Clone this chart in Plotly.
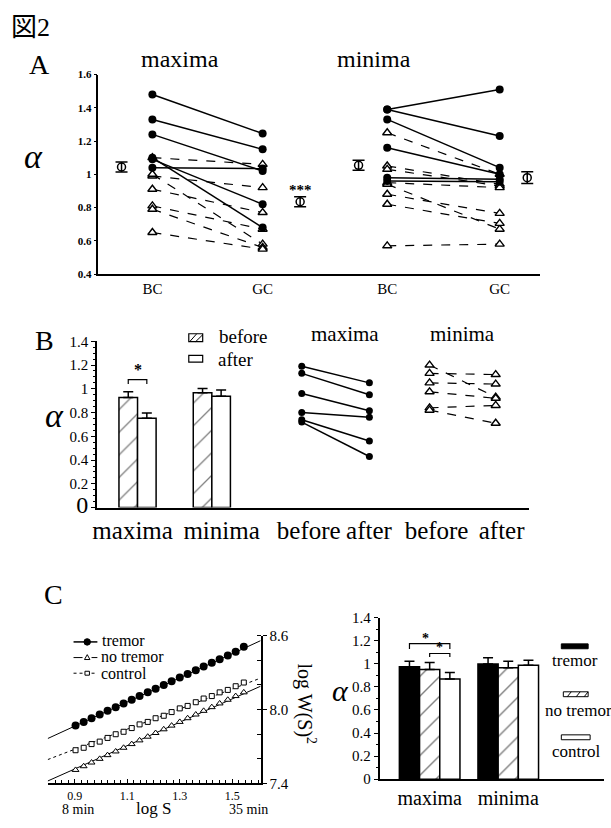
import plotly.graph_objects as go

W, H = 611, 828
SERIF = "Liberation Serif, Times New Roman, serif"
CJK = "Liberation Serif, Noto Sans CJK JP, serif"

# ---------------- Panel A data ----------------
a_tick_pos = [1.0, 2.0, 3.13, 4.15]
a_tick_text = ["BC", "GC", "BC", "GC"]
a_max_tremor_bc = [1.48, 1.33, 1.24, 1.04, 1.10, 1.09]
a_max_tremor_gc = [1.245, 1.15, 1.02, 1.035, 0.68, 0.82]
a_max_notremor_bc = [1.10, 0.99, 1.00, 0.91, 0.81, 0.79, 0.65]
a_max_notremor_gc = [1.06, 0.92, 0.58, 0.77, 0.67, 0.56, 0.55]
a_min_tremor_bc = [1.39, 1.39, 1.33, 1.16, 0.98, 0.96]
a_min_tremor_gc = [1.51, 1.23, 1.04, 1.00, 0.97, 0.955]
a_min_notremor_bc = [1.25, 1.05, 1.03, 0.95, 0.94, 0.88, 0.82, 0.57]
a_min_notremor_gc = [1.00, 0.94, 0.93, 0.92, 0.67, 0.765, 0.705, 0.58]
a_mean_x = [0.72, 2.34, 2.87, 4.40]
a_mean_y = [1.044, 0.835, 1.054, 0.98]
a_mean_err = [0.03, 0.03, 0.03, 0.035]

# ---------------- Panel B data ----------------
b_group_pos = [1.0, 2.0]
b_before = [0.926, 0.967]
b_before_err = [0.049, 0.035]
b_after = [0.753, 0.937]
b_after_err = [0.044, 0.052]
b_line_pos = [3.21, 4.12, 4.93, 5.82]
b_max_before = [1.19, 1.13, 0.96, 0.80, 0.74, 0.72]
b_max_after = [1.05, 0.95, 0.815, 0.76, 0.56, 0.43]
b_min_before = [1.20, 1.13, 1.05, 0.975, 0.84, 0.82]
b_min_after = [0.93, 1.12, 1.04, 0.92, 0.86, 0.71]
b_tick_pos = [0.934, 2.131, 3.304, 4.114, 5.024, 5.90]
b_tick_text = ["maxima", "minima", "before", "after", "before", "after"]
b_yvals = [0, 0.2, 0.4, 0.6, 0.8, 1.0, 1.2, 1.4]
b_ytext = ['<span style="font-size:24px">0</span>', "0.2", "0.4", "0.6", "0.8", "1", "1.2", "1.4"]

# ---------------- Panel C (left) data ----------------
c_logs = [0.903, 0.934, 0.964, 0.995, 1.025, 1.056, 1.086, 1.117, 1.147, 1.178, 1.208,
          1.239, 1.269, 1.300, 1.330, 1.361, 1.391, 1.422, 1.452, 1.483, 1.513, 1.544]
c_tremor = [7.87, 7.90, 7.93, 7.96, 7.99, 8.02, 8.05, 8.08, 8.11, 8.14, 8.17,
            8.20, 8.23, 8.26, 8.29, 8.32, 8.35, 8.38, 8.41, 8.44, 8.47, 8.51]
c_notremor = [7.51, 7.54, 7.57, 7.60, 7.63, 7.66, 7.69, 7.72, 7.75, 7.78, 7.81,
              7.84, 7.87, 7.90, 7.93, 7.96, 7.99, 8.02, 8.05, 8.08, 8.11, 8.14]
c_control = [7.67, 7.69, 7.72, 7.74, 7.77, 7.80, 7.82, 7.85, 7.88, 7.90, 7.93,
             7.95, 7.98, 8.01, 8.03, 8.06, 8.09, 8.11, 8.14, 8.16, 8.19, 8.22]
c_fit_x = [0.797, 1.608]
c_fit_tremor = [7.765, 8.56]
c_fit_notremor = [7.42, 8.19]
c_fit_control = [7.594, 8.256]
c_xticks = [0.9, 1.1, 1.3, 1.5]
c_yticks = [7.4, 8.0, 8.6]

# ---------------- Panel C (right) data ----------------
d_group_pos = [1.0, 2.0]
d_groups = ["maxima", "minima"]
d_tremor = [0.975, 0.998]
d_tremor_err = [0.048, 0.056]
d_notremor = [0.952, 0.967]
d_notremor_err = [0.06, 0.056]
d_control = [0.868, 0.989]
d_control_err = [0.057, 0.042]


def px(x):
    return x / W


def py(y):
    return 1 - y / H


def pairs(x0, x1, y0s, y1s):
    xs, ys = [], []
    for a, b in zip(y0s, y1s):
        xs += [x0, x1, None]
        ys += [a, b, None]
    return xs, ys


fig = go.Figure()

circ = dict(symbol="circle", size=8, color="black")
tri = dict(symbol="triangle-up", size=8, color="white", line=dict(color="black", width=1.4))

# ---- Panel A traces ----
for (x0, x1, y0, y1) in [(a_tick_pos[0], a_tick_pos[1], a_max_notremor_bc, a_max_notremor_gc),
                         (a_tick_pos[2], a_tick_pos[3], a_min_notremor_bc, a_min_notremor_gc)]:
    xs, ys = pairs(x0, x1, y0, y1)
    fig.add_trace(go.Scatter(x=xs, y=ys, mode="lines+markers", xaxis="x", yaxis="y",
                             line=dict(color="black", width=1.2, dash="dash"), marker=tri,
                             showlegend=False))
for (x0, x1, y0, y1) in [(a_tick_pos[0], a_tick_pos[1], a_max_tremor_bc, a_max_tremor_gc),
                         (a_tick_pos[2], a_tick_pos[3], a_min_tremor_bc, a_min_tremor_gc)]:
    xs, ys = pairs(x0, x1, y0, y1)
    fig.add_trace(go.Scatter(x=xs, y=ys, mode="lines+markers", xaxis="x", yaxis="y",
                             line=dict(color="black", width=1.5), marker=circ,
                             showlegend=False))
fig.add_trace(go.Scatter(x=a_mean_x, y=a_mean_y, mode="markers", xaxis="x", yaxis="y",
                         marker=dict(symbol="circle-open", size=8, color="black",
                                     line=dict(width=1.5)),
                         error_y=dict(type="data", array=a_mean_err, color="black",
                                      thickness=1.5, width=6),
                         showlegend=False))

# ---- Panel B traces ----
fig.add_trace(go.Bar(x=b_group_pos, y=b_before, width=0.25, offset=-0.25,
                     xaxis="x2", yaxis="y2",
                     marker=dict(color="white", line=dict(color="black", width=1.5),
                                 pattern=dict(shape="/", fgcolor="black", bgcolor="white",
                                              size=16, solidity=0.08)),
                     error_y=dict(type="data", array=b_before_err, arrayminus=[0, 0],
                                  symmetric=False, color="black", thickness=1.5, width=5),
                     showlegend=False))
fig.add_trace(go.Bar(x=b_group_pos, y=b_after, width=0.25, offset=0.0,
                     xaxis="x2", yaxis="y2",
                     marker=dict(color="white", line=dict(color="black", width=1.5)),
                     error_y=dict(type="data", array=b_after_err, arrayminus=[0, 0],
                                  symmetric=False, color="black", thickness=1.5, width=5),
                     showlegend=False))
xs, ys = pairs(b_line_pos[0], b_line_pos[1], b_max_before, b_max_after)
fig.add_trace(go.Scatter(x=xs, y=ys, mode="lines+markers", xaxis="x2", yaxis="y2",
                         line=dict(color="black", width=1.5),
                         marker=dict(symbol="circle", size=7, color="black"),
                         showlegend=False))
xs, ys = pairs(b_line_pos[2], b_line_pos[3], b_min_before, b_min_after)
fig.add_trace(go.Scatter(x=xs, y=ys, mode="lines+markers", xaxis="x2", yaxis="y2",
                         line=dict(color="black", width=1.2, dash="dash"),
                         marker=dict(symbol="triangle-up", size=8, color="white",
                                     line=dict(color="black", width=1.4)),
                         showlegend=False))

# ---- Panel C left traces ----
fig.add_trace(go.Scatter(x=c_fit_x, y=c_fit_tremor, mode="lines", xaxis="x3", yaxis="y3",
                         line=dict(color="black", width=1), showlegend=False))
fig.add_trace(go.Scatter(x=c_fit_x, y=c_fit_notremor, mode="lines", xaxis="x3", yaxis="y3",
                         line=dict(color="black", width=1), showlegend=False))
fig.add_trace(go.Scatter(x=c_fit_x, y=c_fit_control, mode="lines", xaxis="x3", yaxis="y3",
                         line=dict(color="black", width=1, dash="dot"), showlegend=False))
fig.add_trace(go.Scatter(x=c_logs, y=c_tremor, mode="markers", xaxis="x3", yaxis="y3",
                         marker=dict(symbol="circle", size=8, color="black"), showlegend=False))
fig.add_trace(go.Scatter(x=c_logs, y=c_control, mode="markers", xaxis="x3", yaxis="y3",
                         marker=dict(symbol="square", size=5, color="white",
                                     line=dict(color="black", width=1)), showlegend=False))
fig.add_trace(go.Scatter(x=c_logs, y=c_notremor, mode="markers", xaxis="x3", yaxis="y3",
                         marker=dict(symbol="triangle-up", size=6, color="white",
                                     line=dict(color="black", width=1)), showlegend=False))

# ---- Panel C right traces ----
dw = 0.257
for vals, errs, off, mk in [
    (d_tremor, d_tremor_err, -1.5 * dw, dict(color="black", line=dict(color="black", width=1.5))),
    (d_notremor, d_notremor_err, -0.5 * dw,
     dict(color="white", line=dict(color="black", width=1.5),
          pattern=dict(shape="/", fgcolor="black", bgcolor="white", size=14, solidity=0.1))),
    (d_control, d_control_err, 0.5 * dw, dict(color="white", line=dict(color="black", width=1.5))),
]:
    fig.add_trace(go.Bar(x=d_group_pos, y=vals, width=dw, offset=off, xaxis="x4", yaxis="y4",
                         marker=mk,
                         error_y=dict(type="data", array=errs, arrayminus=[0, 0],
                                      symmetric=False, color="black", thickness=1.5, width=5),
                         showlegend=False))

ann = []
shapes = []


def text(x, y, s, size, bold=False, italic=False, xanchor="center", family=SERIF, angle=0):
    if bold:
        s = "<b>" + s + "</b>"
    if italic:
        s = "<i>" + s + "</i>"
    ann.append(dict(x=px(x), y=py(y), xref="paper", yref="paper", text=s, showarrow=False,
                    xanchor=xanchor, yanchor="middle", textangle=angle,
                    font=dict(family=family, size=size, color="black")))


def line(x0, y0, x1, y1, width=1, dash="solid"):
    shapes.append(dict(type="line", xref="paper", yref="paper", x0=px(x0), x1=px(x1),
                       y0=py(y0), y1=py(y1), line=dict(color="black", width=width, dash=dash)))


def rect(x0, y0, x1, y1, fill="white", width=1.2):
    shapes.append(dict(type="rect", xref="paper", yref="paper", x0=px(x0), x1=px(x1),
                       y0=py(y1), y1=py(y0), fillcolor=fill,
                       line=dict(color="black", width=width)))


# titles / labels
text(27, 20, "図2", 26, family=CJK)
text(36, 58, "A", 28)
text(177, 52, "maxima", 24)
text(372, 52, "minima", 24)
text(30, 152, "α", 34, italic=True)
text(41, 340, "B", 28)
text(51, 417, "α", 34, italic=True)
text(343, 333, "maxima", 21)
text(462, 333, "minima", 21)
text(50, 600, "C", 28)
text(339, 698, "α", 30, italic=True)
text(74, 819, "8 min", 14)
text(150, 818, "log S", 17)
text(246, 819, "35 min", 14)
text(304, 711, "log W(S)<sup>2</sup>", 20, angle=90)

# A significance
ann.append(dict(x=a_mean_x[1], y=0.905, xref="x", yref="y", text="<b>***</b>", showarrow=False,
                font=dict(family=SERIF, size=15, color="black"), yanchor="middle"))

# B legend
rect(186, 333, 200, 341)
line(187, 341, 194, 333)
line(193, 341, 200, 334)
text(214, 336, "before", 19, xanchor="left")
rect(186, 355, 200, 362)
text(213, 359, "after", 19, xanchor="left")

# B bracket
shapes.append(dict(type="path", xref="x2", yref="y2",
                   path="M 0.875 1.04 L 0.875 1.077 L 1.125 1.077 L 1.125 1.04",
                   line=dict(color="black", width=1.2)))
ann.append(dict(x=1.0, y=1.077, xref="x2", yref="y2", text="<b>*</b>", showarrow=False,
                yanchor="bottom", font=dict(family=SERIF, size=16, color="black")))

# C left legend
line(70, 648, 94, 648, width=1.5)
shapes.append(dict(type="circle", xref="paper", yref="paper", x0=px(80.5), x1=px(87),
                   y0=py(651.3), y1=py(644.7), fillcolor="black", line=dict(color="black", width=1)))
text(97, 647, "tremor", 16, xanchor="left")
line(70, 664, 94, 664, width=1, dash="dash")
shapes.append(dict(type="path", xref="paper", yref="paper",
                   path=f"M {px(81)} {py(666)} L {px(86.5)} {py(666)} L {px(83.8)} {py(661)} Z",
                   fillcolor="white", line=dict(color="black", width=1)))
text(96, 663, "no tremor", 16, xanchor="left")
line(70, 680, 94, 680, width=1, dash="dot")
rect(81.5, 678, 86, 682, width=1)
text(96, 680, "control", 16, xanchor="left")

# C right brackets
shapes.append(dict(type="path", xref="x4", yref="y4",
                   path=f"M {1 - dw} 1.13 L {1 - dw} 1.175 L {1 + dw} 1.175 L {1 + dw} 1.13",
                   line=dict(color="black", width=1.2)))
ann.append(dict(x=1.0 - 0.05, y=1.175, xref="x4", yref="y4", text="<b>*</b>", showarrow=False,
                yanchor="bottom", yshift=-4, font=dict(family=SERIF, size=14, color="black")))
shapes.append(dict(type="path", xref="x4", yref="y4",
                   path=f"M 1.0 1.06 L 1.0 1.09 L {1 + dw} 1.09 L {1 + dw} 1.06",
                   line=dict(color="black", width=1.2)))
ann.append(dict(x=1 + dw / 2, y=1.09, xref="x4", yref="y4", text="<b>*</b>", showarrow=False,
                yanchor="bottom", yshift=-4, font=dict(family=SERIF, size=14, color="black")))

# C right legend
rect(561, 650, 588, 655, fill="black", width=1)
text(575, 667, "tremor", 17)
rect(563, 699, 588, 704, width=1)
line(567, 704, 571, 699)
line(576, 704, 580, 699)
line(584, 704, 588, 699)
text(543, 718, "no tremor", 17, xanchor="left")
rect(561, 743, 590, 748, width=1)
text(576, 760, "control", 17)

axis_common = dict(showgrid=False, zeroline=False, showline=True, linecolor="black",
                   color="black")

fig.update_layout(
    width=W, height=H, margin=dict(l=0, r=0, t=0, b=0),
    paper_bgcolor="white", plot_bgcolor="white",
    barmode="overlay", showlegend=False,
    font=dict(family=SERIF, color="black"),
    xaxis=dict(domain=[px(95), px(540)], anchor="y", range=[0.51, 4.52],
               tickvals=a_tick_pos, ticktext=a_tick_text, ticks="",
               tickfont=dict(size=15, family=SERIF), tickprefix="<b>", ticksuffix="</b>",
               linewidth=2, **axis_common),
    yaxis=dict(domain=[py(272), py(68)], anchor="x", range=[0.4, 1.6], dtick=0.2,
               ticks="outside", ticklen=3, tickwidth=1, tickfont=dict(size=11, family=SERIF),
               tickprefix="<b>", ticksuffix="</b>", linewidth=1.5, **axis_common),
    xaxis2=dict(domain=[px(93.5), px(528)], anchor="y2", range=[0.453, 6.262],
                tickvals=b_tick_pos, ticktext=b_tick_text, ticks="",
                tickfont=dict(size=25, family=SERIF), linewidth=1.5, **axis_common),
    yaxis2=dict(domain=[py(510.7), py(340.7)], anchor="x2", range=[0, 1.4],
                tickvals=b_yvals, ticktext=b_ytext,
                ticks="outside", ticklen=4, tickwidth=1,
                tickfont=dict(size=15, family=SERIF), tickprefix="<b>", ticksuffix="</b>",
                minor=dict(ticks="outside", dtick=0.05, ticklen=2), linewidth=1.5,
                **axis_common),
    xaxis3=dict(domain=[px(44), px(258.3)], anchor="y3", range=[c_fit_x[0], c_fit_x[1]],
                tickvals=c_xticks, ticks="inside", ticklen=4,
                minor=dict(ticks="inside", dtick=0.025, ticklen=3),
                tickfont=dict(size=12, family=SERIF), linewidth=2, **axis_common),
    yaxis3=dict(domain=[py(792.7), py(641.7)], anchor="x3", side="right", range=[7.4, 8.6],
                tickvals=c_yticks, tickformat=".1f", ticks="outside", ticklen=4,
                minor=dict(ticks="inside", dtick=0.2, ticklen=4),
                tickfont=dict(size=15, family=SERIF), linewidth=2, **axis_common),
    xaxis4=dict(domain=[px(378), px(604)], anchor="y4", range=[0.362, 3.219],
                tickvals=d_group_pos, ticktext=d_groups, ticks="",
                tickfont=dict(size=20, family=SERIF), linewidth=1.5, **axis_common),
    yaxis4=dict(domain=[py(788.3), py(623.3)], anchor="x4", range=[0, 1.4], dtick=0.2,
                ticks="outside", ticklen=4, minor=dict(ticks="outside", dtick=0.1, ticklen=2),
                tickfont=dict(size=15, family=SERIF), linewidth=1.5, **axis_common),
    annotations=ann, shapes=shapes,
)

fig.write_html("out.html")
